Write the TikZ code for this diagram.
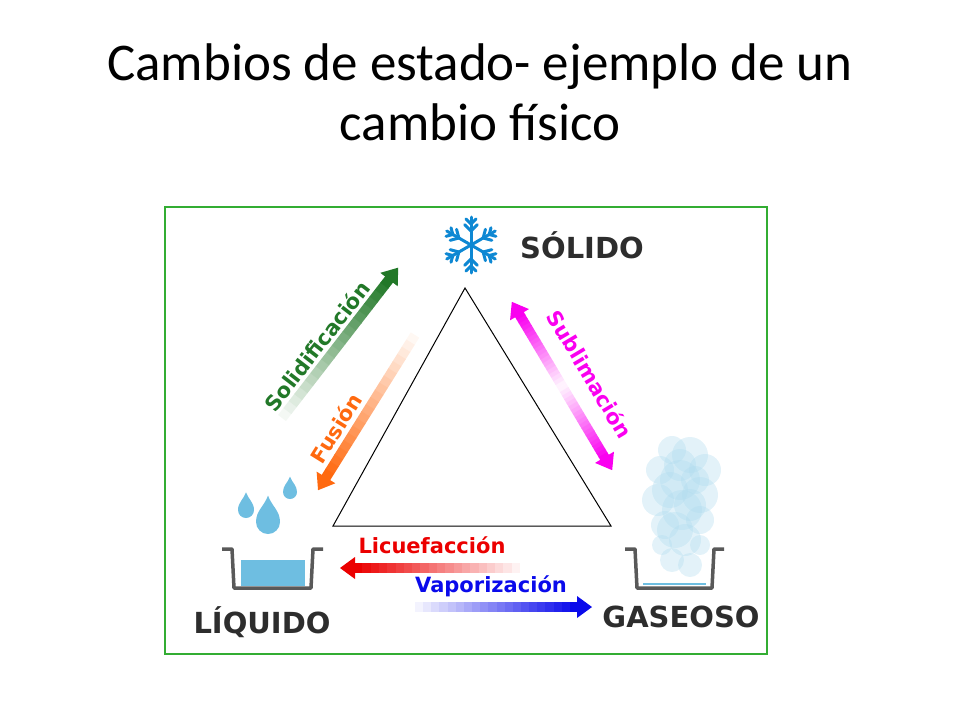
\documentclass[tikz,border=0pt]{standalone}
\usepackage{fontspec}
\setmainfont{Carlito}
\newfontfamily\labfont{DejaVu Sans}
\usetikzlibrary{positioning}

\definecolor{solgreen}{RGB}{34,120,40}
\definecolor{fusorange}{RGB}{255,105,15}
\definecolor{submag}{RGB}{250,0,240}
\definecolor{licred}{RGB}{235,0,0}
\definecolor{vapblue}{RGB}{10,10,235}
\definecolor{water}{RGB}{110,190,225}
\definecolor{statetext}{RGB}{45,45,45}

% gradient arrow: start x, start y, angle, length, colour
\newcommand\gradarrow[5]{%
  \begin{scope}[shift={(#1,#2)},rotate=#3]
    \foreach \i in {0,...,19}
      \fill[#5!\the\numexpr\i*5+5\relax!white]
        ({(#4-14)*\i/20},-5) rectangle ({(#4-14)*(\i+1)/20+0.5},5);
    \fill[#5] (#4-15,-11) -- (#4,0) -- (#4-15,11) -- cycle;
  \end{scope}}
% drop: x, y (centre of the round part), radius
\newcommand\waterdrop[3]{%
  \fill[water] (#1,#2-2.2*#3) to[out=-70,in=90] (#1+#3,#2)
    arc[start angle=0,end angle=180,radius=#3]
    to[out=90,in=-110] (#1,#2-2.2*#3);}

\tikzset{
  statelabel/.style={font=\labfont\bfseries\fontsize{29}{32}\selectfont,text=statetext},
  changelabel/.style={font=\labfont\bfseries\fontsize{21}{24}\selectfont,inner sep=0pt},
  potline/.style={draw=gray!70!black,line width=3.5pt,line join=round}
}

\begin{document}
\begin{tikzpicture}[x=1pt,y=-1pt]
\useasboundingbox (0,0) rectangle (960,720);

\node[font=\fontsize{53}{60}\selectfont,align=center] (title) at (480,92)
  {Cambios de estado- ejemplo de un\\cambio físico};

\draw[green!60!black!80,line width=1.2pt] (165,207) rectangle (767,654);

% triangle
\coordinate (top) at (465,288);
\coordinate (left) at (333,526);
\coordinate (right) at (611,526);
\draw[line width=1pt] (top) -- (left) -- (right) -- cycle;

% snowflake
\begin{scope}[shift={(471,245)},draw=cyan!70!blue,line width=3pt,line cap=round]
  \foreach \a in {30,90,...,330}{
    \draw (0,0) -- (\a:28);
    \draw (\a:14) -- ++(\a+45:9) (\a:14) -- ++(\a-45:9);
    \draw (\a:21) -- ++(\a+45:7) (\a:21) -- ++(\a-45:7);
  }
\end{scope}

% drops and pots
\waterdrop{268}{522}{12}
\waterdrop{246}{510}{8}
\waterdrop{290}{492}{7}
\fill[water] (241,560) rectangle (305,586);
\draw[potline] (222,549) -- (232,549) -- (234,588) -- (311,588) -- (313,549) -- (323,549);
\draw[potline] (625,549) -- (635,549) -- (637,588) -- (712,588) -- (714,549) -- (724,549);
\draw[water,line width=2.5pt] (643,584) -- (706,584);

% vapour
\begin{scope}[fill=water!55,fill opacity=0.35]
  \foreach \x/\y/\r in {672/450/14,690/455/18,705/470/16,660/470/14,680/480/20,
      700/495/18,658/500/16,682/510/20,700/520/14,665/525/14,685/540/16,672/560/12,690/565/12,
      670/490/18,695/480/14,675/530/18,690/505/16,662/545/10,700/545/10,680/465/16}
    \fill (\x,\y) circle (\r);
\end{scope}

% arrows
\gradarrow{282}{418}{52.3}{190}{solgreen}
\gradarrow{415}{335}{238}{183}{fusorange}
\gradarrow{562}{386}{120.8}{98}{submag}
\gradarrow{562}{386}{-59.2}{98}{submag}
\gradarrow{520}{568}{180}{180}{licred}
\gradarrow{415}{607}{0}{177}{vapblue}

% labels
\node[statelabel] (solido) at (582,245) {SÓLIDO};
\node[statelabel] (liquido) at (262,622) {LÍQUIDO};
\node[statelabel] (gaseoso) at (681,617) {GASEOSO};
\node[changelabel,text=solgreen,rotate=52.3] (solidif) at (317,346) {Solidificación};
\node[changelabel,text=fusorange,rotate=58] (fusion) at (336,428) {Fusión};
\node[changelabel,text=submag,rotate=-59.2] (sublim) at (590,374) {Sublimación};
\node[changelabel,text=licred] (licuef) at (432,545) {Licuefacción};
\node[changelabel,text=vapblue] (vapor) at (491,586) {Vaporización};
\end{tikzpicture}
\end{document}
